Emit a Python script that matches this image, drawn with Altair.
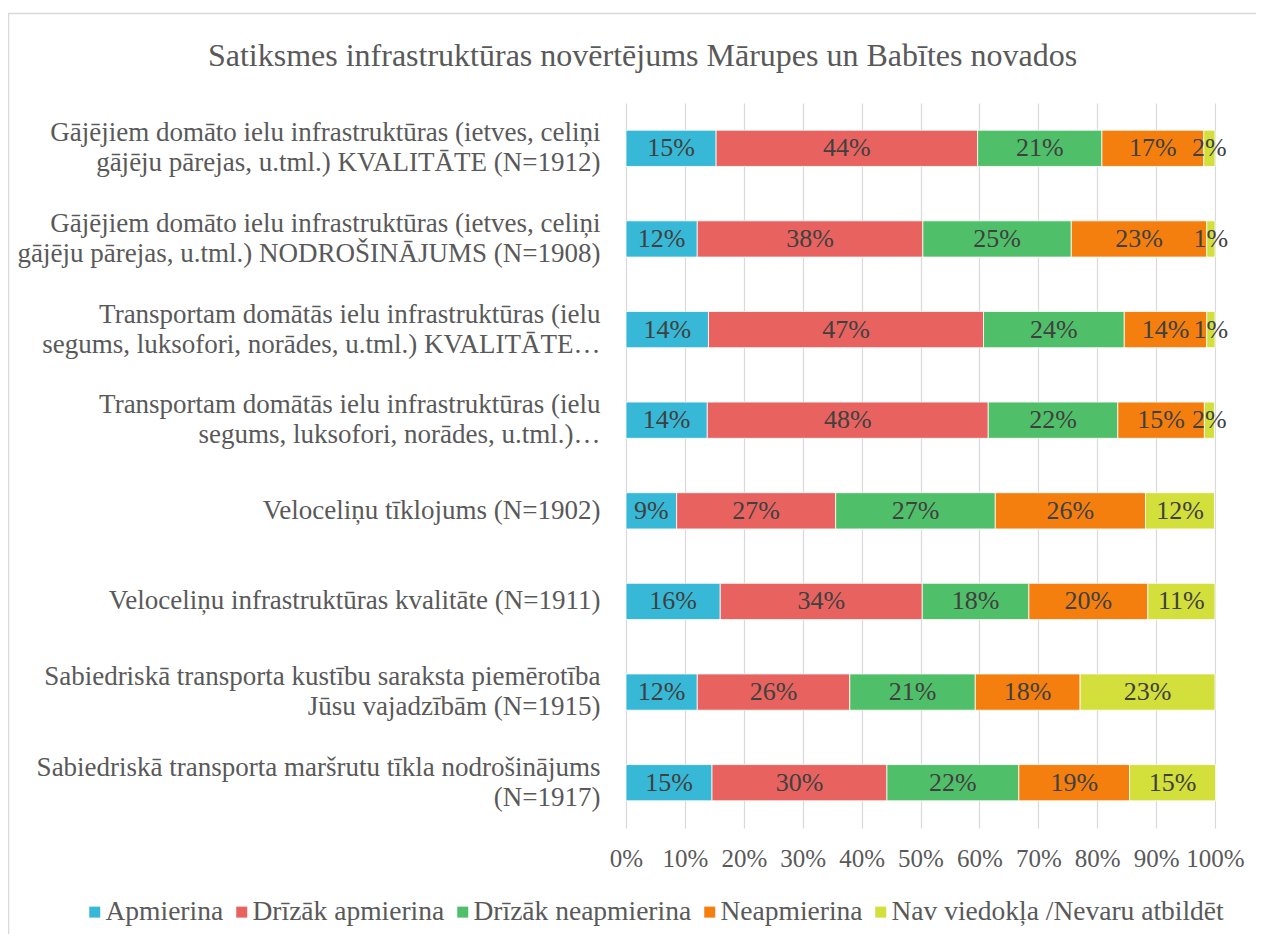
import altair as alt
import pandas as pd

questions = [
    "Gājējiem domāto ielu infrastruktūras (ietves, celiņi|gājēju pārejas, u.tml.) KVALITĀTE (N=1912)",
    "Gājējiem domāto ielu infrastruktūras (ietves, celiņi|gājēju pārejas, u.tml.) NODROŠINĀJUMS (N=1908)",
    "Transportam domātās ielu infrastruktūras (ielu|segums, luksofori, norādes, u.tml.) KVALITĀTE…",
    "Transportam domātās ielu infrastruktūras (ielu|segums, luksofori, norādes, u.tml.)…",
    "Veloceliņu tīklojums (N=1902)",
    "Veloceliņu infrastruktūras kvalitāte (N=1911)",
    "Sabiedriskā transporta kustību saraksta piemērotība|Jūsu vajadzībām (N=1915)",
    "Sabiedriskā transporta maršrutu tīkla nodrošinājums|(N=1917)",
]
answers = ["Apmierina", "Drīzāk apmierina", "Drīzāk neapmierina", "Neapmierina",
           "Nav viedokļa /Nevaru atbildēt"]
colors = ["#37B8D6", "#E8635F", "#50BF69", "#F57F0E", "#D3DF3B"]

apmierina = [15.3, 12.1, 14.0, 13.8, 8.6, 16.0, 12.1, 14.6]
drizak_apm = [44.4, 38.3, 46.7, 47.7, 27.0, 34.3, 25.9, 29.7]
drizak_neapm = [21.1, 25.2, 23.9, 22.0, 27.1, 18.1, 21.3, 22.4]
neapmierina = [17.3, 23.0, 14.0, 14.7, 25.5, 20.2, 17.8, 18.8]
nav_viedokla = [1.9, 1.4, 1.4, 1.7, 11.7, 11.4, 22.9, 14.6]

series = [apmierina, drizak_apm, drizak_neapm, neapmierina, nav_viedokla]
rows = []
for a_i, (ans, vals) in enumerate(zip(answers, series)):
    for q, v in zip(questions, vals):
        rows.append({"q": q, "ans": ans, "order": a_i, "value": v,
                     "label": f"{round(v)}%"})
df = pd.DataFrame(rows)

FONT = "Times New Roman, Liberation Serif, serif"
TXT = "#595959"

base = alt.Chart(df).transform_stack(
    stack="value", groupby=["q"], as_=["x0", "x1"],
    sort=[alt.SortField("order", order="ascending")]
).transform_calculate(mid="(datum.x0 + datum.x1) / 2")

y_enc = alt.Y("q:N", sort=questions, title=None,
              scale=alt.Scale(paddingInner=0.6, paddingOuter=0.3),
              axis=alt.Axis(labelExpr="split(datum.label, '|')", labelAlign="right",
                            labelFont=FONT, labelFontSize=27, labelColor=TXT,
                            labelLineHeight=30, labelPadding=26, labelLimit=0,
                            labelOffset={"condition": {"test": "indexof(datum.value, '|') >= 0",
                                                       "value": -15}, "value": 0},
                            ticks=False, domain=False, grid=False))

bars = base.mark_bar(stroke="white", strokeWidth=0.8).encode(
    x=alt.X("x0:Q", scale=alt.Scale(domain=[0, 100]), title=None,
            axis=alt.Axis(values=list(range(0, 101, 10)), labelExpr="datum.value + '%'",
                          labelFont=FONT, labelFontSize=25, labelColor=TXT,
                          labelPadding=18, labelOverlap=False, labelFlush=False,
                          ticks=False, domain=False,
                          gridColor="#d9d9d9", gridWidth=1.2)),
    x2="x1:Q",
    y=y_enc,
    color=alt.Color("ans:N", sort=answers,
                    scale=alt.Scale(domain=answers, range=colors),
                    legend=alt.Legend(orient="none", direction="horizontal",
                                      legendX=-545, legendY=795, title=None,
                                      symbolType="square", symbolSize=121,
                                      symbolStrokeWidth=0, labelLimit=0,
                                      labelFont=FONT, labelFontSize=27.5,
                                      labelColor=TXT, columnPadding=4,
                                      symbolOffset=0, labelOffset={"expr": "-3"})),
)

texts = base.mark_text(font=FONT, fontSize=26, color="#404040").encode(
    x="mid:Q",
    y=alt.Y("q:N", sort=questions),
    text="label:N",
)

border = alt.Chart(pd.DataFrame({"b": [0]})).mark_rect(
    filled=False, stroke="#d9d9d9", strokeWidth=1.5
).encode(x=alt.value(-617.5), x2=alt.value(680), y=alt.value(-89.5), y2=alt.value(860))

chart = alt.layer(border, bars, texts).properties(
    width=589, height=725,
    title=alt.TitleParams("Satiksmes infrastruktūras novērtējums Mārupes un Babītes novados",
                          font=FONT, fontSize=32, fontWeight="normal", color=TXT,
                          anchor="middle", frame="group", dx=-278, dy=60, offset=0),
    autosize=alt.AutoSizeParams(type="none"),
    padding={"left": 618, "top": 95, "right": 41, "bottom": 106},
).configure_view(stroke=None)

chart.save("out.html", embed_options={"renderer": "svg", "actions": False})
